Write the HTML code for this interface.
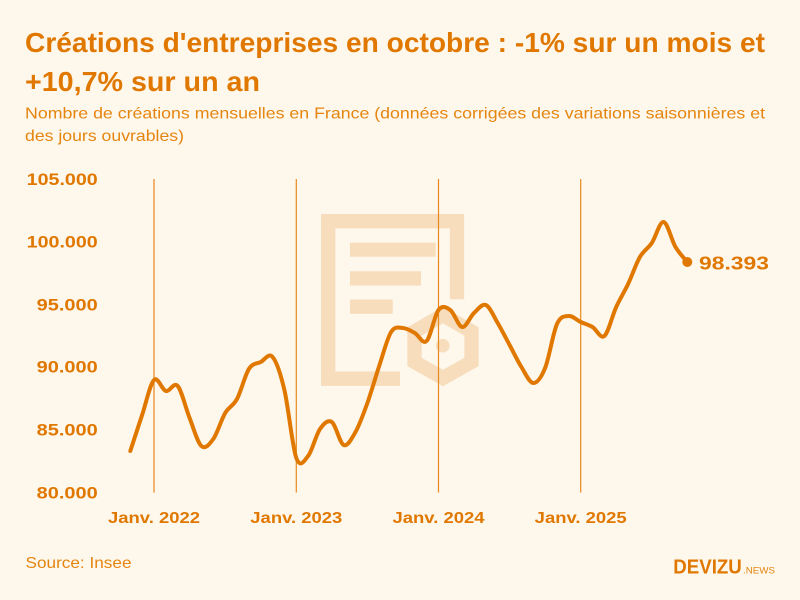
<!DOCTYPE html>
<html>
<head>
<meta charset="utf-8">
<style>
html,body{margin:0;padding:0;background:#FEF7EC;}
svg{display:block;}
text{font-family:"Liberation Sans",sans-serif;}
</style>
</head>
<body>
<svg width="800" height="600" viewBox="0 0 800 600" xmlns="http://www.w3.org/2000/svg">
<rect width="800" height="600" fill="#FEF7EC"/>

<!-- Title -->
<text x="25" y="52" font-size="28" font-weight="bold" fill="#E07800" textLength="740" lengthAdjust="spacingAndGlyphs">Créations d'entreprises en octobre : -1% sur un mois et</text>
<text x="25" y="91" font-size="28" font-weight="bold" fill="#E07800" textLength="235" lengthAdjust="spacingAndGlyphs">+10,7% sur un an</text>
<text x="25" y="118.5" font-size="16" fill="#E5850F" textLength="740" lengthAdjust="spacingAndGlyphs">Nombre de créations mensuelles en France (données corrigées des variations saisonnières et</text>
<text x="25" y="141" font-size="16" fill="#E5850F" textLength="159" lengthAdjust="spacingAndGlyphs">des jours ouvrables)</text>

<!-- Watermark -->
<g fill="none" stroke="#F7DDBB" stroke-width="14.3" stroke-linecap="butt" stroke-linejoin="miter">
  <path d="M400,378.7 H328.2 V221.2 H457 V299.3"/>
  <polygon points="443,315 471.5,331.5 471.5,362 443,378 414.5,362 414.5,331.5"/>
</g>
<g fill="#F7DDBB">
  <rect x="350" y="242.7" width="85.7" height="14"/>
  <rect x="350" y="271.3" width="71" height="14.3"/>
  <rect x="350" y="299.5" width="42.7" height="14.3"/>
  <circle cx="442.7" cy="345.7" r="6.8"/>
</g>

<!-- Vertical year lines -->
<g stroke="#E8891E" stroke-width="1.2">
  <line x1="154" y1="179" x2="154" y2="492.5"/>
  <line x1="296.3" y1="179" x2="296.3" y2="492.5"/>
  <line x1="438.5" y1="179" x2="438.5" y2="492.5"/>
  <line x1="580.7" y1="179" x2="580.7" y2="492.5"/>
</g>

<!-- Y labels -->
<g font-size="16.5" font-weight="bold" fill="#E07800" text-anchor="end">
  <text x="97.7" y="185" textLength="71" lengthAdjust="spacingAndGlyphs">105.000</text>
  <text x="97.7" y="247.7" textLength="71" lengthAdjust="spacingAndGlyphs">100.000</text>
  <text x="97.7" y="310.7" textLength="61" lengthAdjust="spacingAndGlyphs">95.000</text>
  <text x="97.7" y="372.3" textLength="61" lengthAdjust="spacingAndGlyphs">90.000</text>
  <text x="97.7" y="435.7" textLength="61" lengthAdjust="spacingAndGlyphs">85.000</text>
  <text x="97.7" y="498.3" textLength="61" lengthAdjust="spacingAndGlyphs">80.000</text>
</g>

<!-- X labels -->
<g font-size="16" font-weight="bold" fill="#E07800">
  <text x="108" y="523" textLength="92" lengthAdjust="spacingAndGlyphs">Janv. 2022</text>
  <text x="250.3" y="523" textLength="92" lengthAdjust="spacingAndGlyphs">Janv. 2023</text>
  <text x="392.5" y="523" textLength="92" lengthAdjust="spacingAndGlyphs">Janv. 2024</text>
  <text x="534.7" y="523" textLength="92" lengthAdjust="spacingAndGlyphs">Janv. 2025</text>
</g>

<!-- Series -->
<polyline id="fallback" fill="none" stroke="#E07800" stroke-width="4" stroke-linejoin="round" stroke-linecap="round"
 points="130.3,451 142.1,415 154,380 165.9,391 177.7,386 189.6,418 201.4,446 213.3,439 225.2,413 237,399 248.9,369 260.7,362 272.6,357 284.4,390 296.3,458 308.1,456 320,429 331.8,422 343.7,445 355.5,432 367.4,403 379.2,366 391.1,332 402.9,328 414.8,333 426.6,341 438.5,310 450.3,310 462.2,327 474,313 485.9,305 497.7,323 509.6,345 521.4,367 533.3,383 545.1,368 557,324 568.8,316 580.7,322 592.5,327 604.4,336 616.2,307 628.1,284 639.9,257 651.8,243 663.6,222 675.5,247 687.3,262"/>
<path id="smooth" fill="none" stroke="#E07800" stroke-width="4" stroke-linejoin="round" stroke-linecap="round" d=""/>
<circle cx="687.3" cy="262" r="5" fill="#E07800"/>
<text x="699" y="269.5" font-size="18.5" font-weight="bold" fill="#E07800" textLength="70" lengthAdjust="spacingAndGlyphs">98.393</text>

<!-- Footer -->
<text x="25.5" y="568" font-size="16" fill="#E5850F" textLength="106" lengthAdjust="spacingAndGlyphs">Source: Insee</text>
<text x="673.3" y="573.3" font-size="20.5" font-weight="bold" fill="#E07800" textLength="68.5" lengthAdjust="spacingAndGlyphs">DEVIZU</text>
<text x="743" y="573.3" font-size="9.3" fill="#E5850F" textLength="32" lengthAdjust="spacingAndGlyphs">.NEWS</text>
</svg>
<script>
(function(){
  var pl=document.getElementById('fallback');
  var raw=pl.getAttribute('points').trim().split(/\s+/).map(function(s){var a=s.split(',');return [parseFloat(a[0]),parseFloat(a[1])];});
  var d='M'+raw[0][0]+','+raw[0][1];
  for(var i=0;i<raw.length-1;i++){
    var p0=raw[i>0?i-1:i],p1=raw[i],p2=raw[i+1],p3=raw[i+2<raw.length?i+2:i+1];
    var c1x=p1[0]+(p2[0]-p0[0])/6,c1y=p1[1]+(p2[1]-p0[1])/6;
    var c2x=p2[0]-(p3[0]-p1[0])/6,c2y=p2[1]-(p3[1]-p1[1])/6;
    d+=' C'+c1x.toFixed(2)+','+c1y.toFixed(2)+' '+c2x.toFixed(2)+','+c2y.toFixed(2)+' '+p2[0]+','+p2[1];
  }
  document.getElementById('smooth').setAttribute('d',d);
  pl.parentNode.removeChild(pl);
})();
</script>
</body>
</html>
